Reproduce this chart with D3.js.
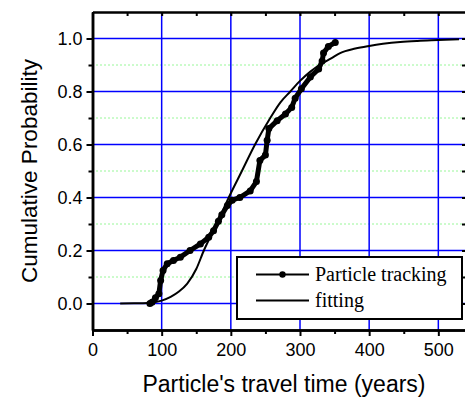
<!DOCTYPE html>
<html>
<head>
<meta charset="utf-8">
<script src="https://cdn.jsdelivr.net/npm/d3@7"></script>
<style>
  body { margin: 0; background: #fff; }
  .axis text { font-family: Arial, "Liberation Sans", sans-serif; font-size: 18px; fill: #000; }
  .axis path, .axis line { stroke: #000; }
</style>
</head>
<body>
<div id="chart"></div>
<script>
// Particle tracking: [travel time (years), cumulative probability]
const trackingTime = [83, 86, 91, 96, 98.5, 102, 108, 117, 127, 141, 156, 168, 175, 182, 187, 195, 202, 213, 228, 237, 242, 250, 252.5, 255, 267, 279, 288, 293, 302, 315, 327, 332, 334, 341, 351];
const trackingProb = [0, 0.005, 0.022, 0.037, 0.087, 0.125, 0.15, 0.162, 0.175, 0.2, 0.225, 0.25, 0.275, 0.31, 0.335, 0.37, 0.39, 0.4, 0.425, 0.46, 0.54, 0.56, 0.616, 0.66, 0.69, 0.715, 0.74, 0.775, 0.81, 0.855, 0.885, 0.915, 0.945, 0.97, 0.985];

// fitting curve
const fitTime = [40, 60, 80, 90, 100, 113, 125, 137, 150, 161, 170, 185, 197, 216, 235, 257, 272, 286, 300, 315, 328, 345, 358, 380, 400, 420, 445, 470, 500, 530];
const fitProb = [0, 0.0005, 0.002, 0.005, 0.011, 0.025, 0.045, 0.075, 0.13, 0.2, 0.25, 0.33, 0.4, 0.5, 0.6, 0.7, 0.76, 0.8, 0.84, 0.875, 0.9, 0.925, 0.945, 0.962, 0.972, 0.98, 0.987, 0.991, 0.994, 0.997];

const xMajor = [0, 100, 200, 300, 400, 500];
const xMinor = [50, 150, 250, 350, 450];
const yMajor = [0, 0.2, 0.4, 0.6, 0.8, 1.0];
const yMinor = [0.1, 0.3, 0.5, 0.7, 0.9];

const legendLabels = ["Particle tracking", "fitting"];

const W = 465, H = 400;
const margin = {top: 12, right: -1, bottom: 70, left: 92.5};
const width = W - margin.left - margin.right;
const height = H - margin.top - margin.bottom;

const svg = d3.select("#chart").append("svg")
  .attr("width", W)
  .attr("height", H);

const g = svg.append("g")
  .attr("transform", "translate(" + margin.left + "," + margin.top + ")");

const x = d3.scaleLinear().domain([0, 540]).range([0, width]);
const y = d3.scaleLinear().domain([-0.1, 1.1]).range([height, 0]);

// grid lines
g.selectAll(".gminor")
  .data(yMinor)
  .enter().append("line")
  .attr("class", "gminor")
  .attr("x1", 0).attr("x2", width)
  .attr("y1", d => y(d)).attr("y2", d => y(d))
  .attr("stroke", "#33ee33")
  .attr("stroke-width", 1)
  .attr("stroke-dasharray", "1,3");

g.selectAll(".gy")
  .data(yMajor)
  .enter().append("line")
  .attr("class", "gy")
  .attr("x1", 0).attr("x2", width)
  .attr("y1", d => y(d)).attr("y2", d => y(d))
  .attr("stroke", "#0000ff")
  .attr("stroke-width", 1.5);

g.selectAll(".gx")
  .data(xMajor.filter(d => d > 0))
  .enter().append("line")
  .attr("class", "gx")
  .attr("x1", d => x(d)).attr("x2", d => x(d))
  .attr("y1", 0).attr("y2", height)
  .attr("stroke", "#0000ff")
  .attr("stroke-width", 1.5);

// curves
const fitData = fitTime.map((t, i) => [t, fitProb[i]]);
const trackData = trackingTime.map((t, i) => [t, trackingProb[i]]);

const line = d3.line()
  .x(d => x(d[0]))
  .y(d => y(d[1]))
  .curve(d3.curveMonotoneX);

g.append("path")
  .datum(fitData)
  .attr("fill", "none")
  .attr("stroke", "#000")
  .attr("stroke-width", 2)
  .attr("d", line);

g.append("path")
  .datum(trackData)
  .attr("fill", "none")
  .attr("stroke", "#000")
  .attr("stroke-width", 5)
  .attr("stroke-linejoin", "round")
  .attr("stroke-linecap", "round")
  .attr("d", d3.line().x(d => x(d[0])).y(d => y(d[1])));

g.selectAll(".dot")
  .data(trackData)
  .enter().append("circle")
  .attr("class", "dot")
  .attr("cx", d => x(d[0]))
  .attr("cy", d => y(d[1]))
  .attr("r", 3.5)
  .attr("fill", "#000");

// axes
function styleAxis(sel) {
  sel.selectAll("path").attr("stroke-width", 2.5);
  sel.selectAll("line").attr("stroke-width", 2);
}

g.append("g").attr("class", "axis")
  .attr("transform", "translate(0," + height + ")")
  .call(d3.axisBottom(x).tickValues(xMinor).tickSize(4).tickSizeOuter(0).tickFormat(""))
  .call(styleAxis);
g.append("g").attr("class", "axis")
  .attr("transform", "translate(0," + height + ")")
  .call(d3.axisBottom(x).tickValues(xMajor).tickSize(6).tickSizeOuter(0).tickPadding(7).tickFormat(d3.format("d")))
  .call(styleAxis);

g.append("g").attr("class", "axis")
  .call(d3.axisLeft(y).tickValues(yMinor).tickSize(4).tickSizeOuter(0).tickFormat(""))
  .call(styleAxis);
g.append("g").attr("class", "axis")
  .call(d3.axisLeft(y).tickValues(yMajor).tickSize(6).tickSizeOuter(0).tickPadding(4).tickFormat(d3.format(".1f")))
  .call(styleAxis);

g.append("g").attr("class", "axis")
  .call(d3.axisTop(x).tickValues(xMajor.concat(xMinor)).tickSize(-4).tickSizeOuter(0).tickFormat(""))
  .call(styleAxis);
g.append("g").attr("class", "axis")
  .attr("transform", "translate(" + width + ",0)")
  .call(d3.axisRight(y).tickValues(yMajor.concat(yMinor)).tickSize(-4).tickSizeOuter(0).tickFormat(""))
  .call(styleAxis);

// axis titles
svg.append("text")
  .attr("x", 284)
  .attr("y", 392)
  .attr("text-anchor", "middle")
  .style("font-family", "Arial, 'Liberation Sans', sans-serif")
  .style("font-size", "23px")
  .text("Particle's travel time (years)");

svg.append("text")
  .attr("transform", "translate(37,171) rotate(-90)")
  .attr("text-anchor", "middle")
  .style("font-family", "Arial, 'Liberation Sans', sans-serif")
  .style("font-size", "22.5px")
  .text("Cumulative Probability");

// legend
const legend = svg.append("g").attr("transform", "translate(237,257)");
legend.append("rect")
  .attr("width", 225).attr("height", 62)
  .attr("fill", "#fff")
  .attr("stroke", "#000")
  .attr("stroke-width", 2);

legendLabels.forEach((lab, i) => {
  const ly = 17.5 + i * 26;
  legend.append("line")
    .attr("x1", 19).attr("x2", 72)
    .attr("y1", ly).attr("y2", ly)
    .attr("stroke", "#000").attr("stroke-width", 2);
  if (i === 0) {
    legend.append("circle").attr("cx", 45.5).attr("cy", ly).attr("r", 3.2).attr("fill", "#000");
  }
  legend.append("text")
    .attr("x", 78).attr("y", ly + 6.5)
    .style("font-family", "'Times New Roman', 'Liberation Serif', serif")
    .style("font-size", "20px")
    .text(lab);
});
</script>
</body>
</html>
